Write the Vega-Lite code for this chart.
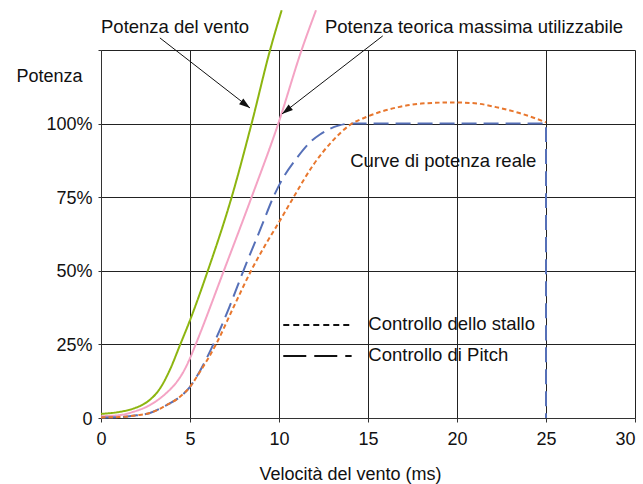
{
  "$schema": "https://vega.github.io/schema/vega-lite/v6.json",
  "width": 534,
  "height": 368,
  "autosize": {"type": "none"},
  "padding": {"left": 101, "top": 50, "right": 8, "bottom": 66},
  "background": "white",
  "config": {
    "font": "Liberation Sans",
    "view": {"stroke": null},
    "axis": {
      "labelFont": "Liberation Sans",
      "titleFont": "Liberation Sans",
      "labelFontSize": 18,
      "titleFontSize": 18,
      "labelColor": "#111",
      "titleColor": "#111",
      "titleFontWeight": "normal",
      "gridColor": "#222",
      "gridOpacity": 1,
      "gridWidth": 1,
      "domainColor": "#333",
      "tickColor": "#333"
    }
  },
  "encoding": {
    "x": {
      "field": "x",
      "type": "quantitative",
      "scale": {"domain": [0, 30], "nice": false, "zero": false},
      "axis": {
        "title": "Velocità del vento (ms)",
        "values": [0, 5, 10, 15, 20, 25, 30],
        "grid": true,
        "tickSize": 4,
        "labelPadding": 8,
        "labelFlush": false,
        "labelAlign": {"condition": {"test": "datum.value == 30", "value": "right"}, "value": "center"},
        "titleX": 249,
        "titleY": 61,
        "titleAlign": "center",
        "titleBaseline": "alphabetic"
      }
    },
    "y": {
      "field": "y",
      "type": "quantitative",
      "scale": {"domain": [0, 125], "nice": false, "zero": false},
      "axis": {
        "title": "Potenza",
        "values": [0, 25, 50, 75, 100, 125],
        "labelExpr": "datum.value == 0 ? '0' : (datum.value == 125 ? '' : datum.value + '%')",
        "grid": true,
        "tickSize": 3,
        "labelPadding": 6,
        "labelFlush": false,
        "labelOffset": 1,
        "titleAngle": 0,
        "titleX": -52,
        "titleY": 31,
        "titleAlign": "center",
        "titleBaseline": "alphabetic"
      }
    }
  },
  "layer": [
    {
      "data": {
        "values": [
          {"s": "vento", "x": 0, "y": 1.4},
          {"s": "vento", "x": 1.07, "y": 2.1},
          {"s": "vento", "x": 1.82, "y": 3.2},
          {"s": "vento", "x": 2.3, "y": 4.4},
          {"s": "vento", "x": 2.75, "y": 6.2},
          {"s": "vento", "x": 3.31, "y": 10.0},
          {"s": "vento", "x": 3.88, "y": 16.5},
          {"s": "vento", "x": 4.42, "y": 24.5},
          {"s": "vento", "x": 5.0, "y": 33.2},
          {"s": "vento", "x": 6.0, "y": 50},
          {"s": "vento", "x": 7.34, "y": 75},
          {"s": "vento", "x": 8.46, "y": 100},
          {"s": "vento", "x": 9.5, "y": 125},
          {"s": "vento", "x": 10.15, "y": 138.5},
          {"s": "teorica", "x": 0, "y": 0.6},
          {"s": "teorica", "x": 1.07, "y": 1.0},
          {"s": "teorica", "x": 1.82, "y": 2.1},
          {"s": "teorica", "x": 2.75, "y": 4.4},
          {"s": "teorica", "x": 3.69, "y": 8.6},
          {"s": "teorica", "x": 4.2, "y": 11.8},
          {"s": "teorica", "x": 4.62, "y": 15.6},
          {"s": "teorica", "x": 5.0, "y": 20.3},
          {"s": "teorica", "x": 5.32, "y": 25},
          {"s": "teorica", "x": 6.9, "y": 50},
          {"s": "teorica", "x": 8.46, "y": 75},
          {"s": "teorica", "x": 9.96, "y": 100},
          {"s": "teorica", "x": 11.27, "y": 125},
          {"s": "teorica", "x": 12.08, "y": 138.5},
          {"s": "pitch", "x": 0, "y": 0.2},
          {"s": "pitch", "x": 1.0, "y": 0.3},
          {"s": "pitch", "x": 2.0, "y": 0.9},
          {"s": "pitch", "x": 2.75, "y": 1.7},
          {"s": "pitch", "x": 3.69, "y": 4.4},
          {"s": "pitch", "x": 4.44, "y": 7.2},
          {"s": "pitch", "x": 5.0, "y": 10.6},
          {"s": "pitch", "x": 5.56, "y": 16.0},
          {"s": "pitch", "x": 6.31, "y": 25},
          {"s": "pitch", "x": 7.2, "y": 37.5},
          {"s": "pitch", "x": 8.0, "y": 50},
          {"s": "pitch", "x": 9.0, "y": 64.8},
          {"s": "pitch", "x": 9.68, "y": 75},
          {"s": "pitch", "x": 10.06, "y": 79.7},
          {"s": "pitch", "x": 11.0, "y": 88.3},
          {"s": "pitch", "x": 11.84, "y": 94.2},
          {"s": "pitch", "x": 12.3, "y": 96.3},
          {"s": "pitch", "x": 13.33, "y": 99.3},
          {"s": "pitch", "x": 14.0, "y": 100},
          {"s": "pitch", "x": 25.0, "y": 100},
          {"s": "pitch", "x": 25.0, "y": 0},
          {"s": "stallo", "x": 0, "y": 0.2},
          {"s": "stallo", "x": 1.0, "y": 0.3},
          {"s": "stallo", "x": 2.0, "y": 0.9},
          {"s": "stallo", "x": 2.75, "y": 1.7},
          {"s": "stallo", "x": 3.69, "y": 4.4},
          {"s": "stallo", "x": 4.44, "y": 7.2},
          {"s": "stallo", "x": 5.0, "y": 10.6},
          {"s": "stallo", "x": 5.56, "y": 15.7},
          {"s": "stallo", "x": 6.46, "y": 25},
          {"s": "stallo", "x": 7.45, "y": 37.7},
          {"s": "stallo", "x": 8.43, "y": 50},
          {"s": "stallo", "x": 9.3, "y": 59.5},
          {"s": "stallo", "x": 10.0, "y": 66.5},
          {"s": "stallo", "x": 10.77, "y": 74.5},
          {"s": "stallo", "x": 11.93, "y": 86.0},
          {"s": "stallo", "x": 13.05, "y": 94.4},
          {"s": "stallo", "x": 14.0, "y": 99.6},
          {"s": "stallo", "x": 14.93, "y": 102.3},
          {"s": "stallo", "x": 16.7, "y": 105.6},
          {"s": "stallo", "x": 18.0, "y": 106.8},
          {"s": "stallo", "x": 19.8, "y": 107.2},
          {"s": "stallo", "x": 21.0, "y": 106.9},
          {"s": "stallo", "x": 22.4, "y": 105.3},
          {"s": "stallo", "x": 23.5, "y": 103.6},
          {"s": "stallo", "x": 24.4, "y": 101.8},
          {"s": "stallo", "x": 25.0, "y": 100.4}
        ]
      },
      "mark": {"type": "line", "strokeWidth": 2, "interpolate": "monotone", "strokeCap": "butt", "clip": false},
      "encoding": {
        "color": {
          "field": "s",
          "type": "nominal",
          "scale": {"domain": ["vento", "teorica", "pitch", "stallo"], "range": ["#8db510", "#f4a3c4", "#5670b8", "#e8772e"]},
          "legend": null
        },
        "strokeDash": {
          "field": "s",
          "type": "nominal",
          "scale": {"domain": ["vento", "teorica", "pitch", "stallo"], "range": [[1, 0], [1, 0], [15, 7], [4.5, 3]]},
          "legend": null
        }
      }
    },
    {
      "data": {
        "values": [
          {"x": 3.31, "y": 129.1, "x2": 8.37, "y2": 105.3},
          {"x": 15.83, "y": 129.8, "x2": 10.17, "y2": 103.3}
        ]
      },
      "mark": {"type": "rule", "color": "#111", "strokeWidth": 1},
      "encoding": {
        "x2": {"field": "x2"},
        "y2": {"field": "y2"}
      }
    },
    {
      "data": {"values": [{"x": 8.37, "y": 105.3}]},
      "mark": {"type": "point", "shape": "M0,0L-0.32,1L0.32,1Z", "size": 484, "filled": true, "color": "#111", "opacity": 1, "strokeWidth": 0, "angle": 127}
    },
    {
      "data": {"values": [{"x": 10.17, "y": 103.3}]},
      "mark": {"type": "point", "shape": "M0,0L-0.32,1L0.32,1Z", "size": 484, "filled": true, "color": "#111", "opacity": 1, "strokeWidth": 0, "angle": 232.5}
    },
    {
      "data": {"values": [{"x": 10.24, "x2": 14.08, "y": 31.6}]},
      "mark": {"type": "rule", "color": "#111", "strokeWidth": 2, "strokeDash": [6, 4]},
      "encoding": {"x2": {"field": "x2"}}
    },
    {
      "data": {"values": [{"x": 10.24, "x2": 14.08, "y": 21.1}]},
      "mark": {"type": "rule", "color": "#111", "strokeWidth": 2, "strokeDash": [23, 8]},
      "encoding": {"x2": {"field": "x2"}}
    },
    {
      "data": {
        "values": [
          {"t": "Potenza del vento", "x": 0, "y": 130.7},
          {"t": "Potenza teorica massima utilizzabile", "x": 12.58, "y": 130.7},
          {"t": "Curve di potenza reale", "x": 14.0, "y": 85.4},
          {"t": "Controllo dello stallo", "x": 15.02, "y": 29.9},
          {"t": "Controllo di Pitch", "x": 15.02, "y": 19.4}
        ]
      },
      "mark": {"type": "text", "align": "left", "baseline": "alphabetic", "fontSize": 18.5, "font": "Liberation Sans", "color": "#111"},
      "encoding": {"text": {"field": "t"}}
    }
  ]
}
